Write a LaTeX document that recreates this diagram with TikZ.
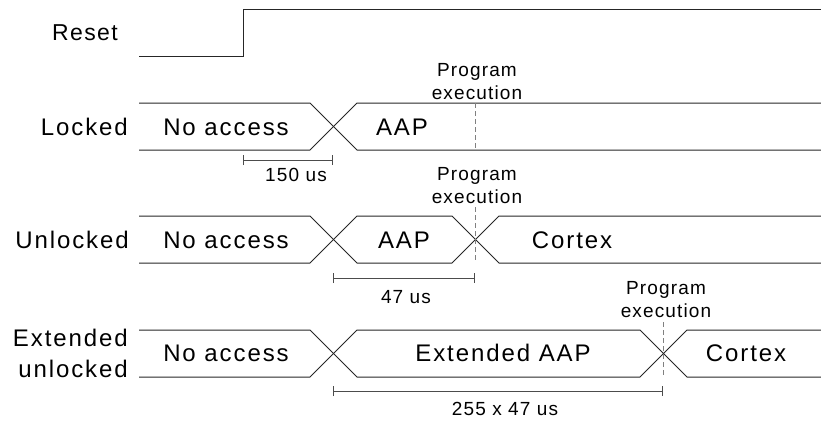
\documentclass[tikz,border=0pt]{standalone}
\usepackage{fontspec}
\setmainfont{Liberation Sans}[LetterSpace=6]
\newfontfamily\widefont{Liberation Sans}[LetterSpace=8]
\usetikzlibrary{arrows.meta,calc,positioning}

\tikzset{
  sig/.style={line width=1pt, draw=black!85},
  lbl/.style={font=\widefont\fontsize{24}{28}\selectfont, inner sep=0pt},
  note/.style={font=\fontsize{19}{23}\selectfont, inner sep=0pt, align=center},
  prog/.style={draw=black!50, line width=1pt, dash pattern=on 5pt off 3pt},
  dur/.style={draw=black!70, line width=1pt, {Bar[width=10pt]}-{Bar[width=10pt]}}
}

\begin{document}
\begin{tikzpicture}[x=1pt,y=-1pt]
\useasboundingbox (0,0) rectangle (821,421);

% reset
\coordinate (R0) at (139,56);
\coordinate (R1) at (243,56);
\coordinate (R2) at (821,9);
\draw[sig] (R0) -- (R1) |- (R2);
\node[lbl,anchor=east,font=\normalfont\fontsize{23}{27}\selectfont] (reset) at (118,33) {Reset};

% locked
\draw[sig] (139,103) -- (310,103) -- (357,150) -- (821,150);
\draw[sig] (139,150) -- (310,150) -- (357,103) -- (821,103);
\node[lbl,anchor=east] (locked) at (128,127) {Locked};
\node[lbl] (lockNA) at (226,127) {No access};
\node[lbl] (lockAAP) at (402,127) {AAP};
\coordinate (P1) at (475,103);
\coordinate (P1b) at (475,150);
\draw[prog] (P1) -- (P1b);
\node[note,anchor=south] (prog1) at (477,100) {Program\\execution};
\coordinate (T1a) at (243,160);
\coordinate (T1b) at (333,160);
\draw[dur] (T1a) -- (T1b);
\node[note] (t150) at (296,175) {150 us};

% unlocked
\draw[sig] (139,216) -- (310,216) -- (357,263) -- (452,263) -- (499,216) -- (821,216);
\draw[sig] (139,263) -- (310,263) -- (357,216) -- (452,216) -- (499,263) -- (821,263);
\node[lbl,anchor=east] (unlocked) at (129,240) {Unlocked};
\node[lbl] (unlockNA) at (226,240) {No access};
\node[lbl] (unlockAAP) at (404,240) {AAP};
\node[lbl] (unlockCx) at (572,240) {Cortex};
\coordinate (P2) at (475,207);
\coordinate (P2b) at (475,262);
\draw[prog] (P2) -- (P2b);
\node[note,anchor=south] (prog2) at (477,204) {Program\\execution};
\coordinate (T2a) at (333,278);
\coordinate (T2b) at (475,278);
\draw[dur] (T2a) -- (T2b);
\node[note] (t47) at (406,297) {47 us};

% extended unlocked
\draw[sig] (139,330) -- (310,330) -- (357,377) -- (640,377) -- (687,330) -- (821,330);
\draw[sig] (139,377) -- (310,377) -- (357,330) -- (640,330) -- (687,377) -- (821,377);
\node[lbl,anchor=east,align=right,font=\widefont\fontsize{24}{31}\selectfont] (extended) at (128,353) {Extended\\unlocked};
\node[lbl] (extNA) at (226,353) {No access};
\node[lbl] (extAAP) at (503,353) {Extended AAP};
\node[lbl] (extCx) at (746,353) {Cortex};
\coordinate (P3) at (663,322);
\coordinate (P3b) at (663,375);
\draw[prog] (P3) -- (P3b);
\node[note,anchor=south] (prog3) at (666,318) {Program\\execution};
\coordinate (T3a) at (333,391);
\coordinate (T3b) at (663,391);
\draw[dur] (T3a) -- (T3b);
\node[note] (t255) at (505,409) {255 x 47 us};
\end{tikzpicture}
\end{document}
